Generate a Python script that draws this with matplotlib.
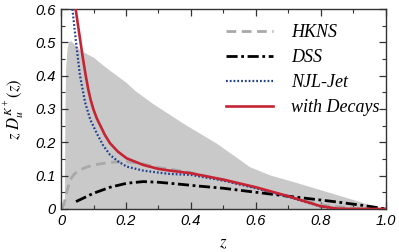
import numpy as np
import matplotlib
matplotlib.use("Agg")
import matplotlib.pyplot as plt
from matplotlib.ticker import MultipleLocator, FuncFormatter

plt.rcParams['mathtext.fontset'] = 'stix'

# Uncertainty band (upper edge, lower edge is 0)
band_z = [0.010, 0.012, 0.014, 0.018, 0.023, 0.030, 0.040, 0.058, 0.100, 0.135,
          0.200, 0.228, 0.280, 0.376, 0.479, 0.580, 0.643, 0.715, 0.818, 0.920,
          0.980, 1.000]
band_up = [0.0, 0.30, 0.42, 0.48, 0.502, 0.505, 0.495, 0.477, 0.455, 0.427,
           0.380, 0.355, 0.318, 0.257, 0.197, 0.127, 0.102, 0.082, 0.052, 0.022,
           0.002, 0.0]

# HKNS
hkns_z = [0.005, 0.012, 0.020, 0.028, 0.040, 0.058, 0.080, 0.100, 0.151, 0.202,
          0.253, 0.300, 0.350, 0.400, 0.500, 0.600, 0.700, 0.800, 0.900, 1.000]
hkns_v = [0.0, 0.027, 0.060, 0.087, 0.104, 0.117, 0.126, 0.132, 0.140, 0.142,
          0.135, 0.124, 0.117, 0.109, 0.086, 0.063, 0.037, 0.012, 0.002, 0.0]

# DSS
dss_z = [0.046, 0.070, 0.100, 0.151, 0.202, 0.253, 0.300, 0.335, 0.430, 0.500,
         0.633, 0.700, 0.840, 0.940, 1.000]
dss_v = [0.022, 0.033, 0.047, 0.065, 0.077, 0.082, 0.080, 0.077, 0.068, 0.062,
         0.046, 0.038, 0.022, 0.009, 0.0]

# NJL-Jet
njl_z = [0.035, 0.046, 0.058, 0.074, 0.090, 0.110, 0.130, 0.151, 0.175, 0.202,
         0.253, 0.300, 0.335, 0.400, 0.500, 0.600, 0.700, 0.800, 0.850]
njl_v = [0.600, 0.502, 0.402, 0.320, 0.268, 0.227, 0.190, 0.162, 0.143, 0.127,
         0.115, 0.109, 0.105, 0.102, 0.085, 0.062, 0.036, 0.007, 0.0]

# with Decays
dec_z = [0.045, 0.052, 0.060, 0.068, 0.076, 0.084, 0.091, 0.100, 0.110, 0.120,
         0.135, 0.151, 0.175, 0.202, 0.253, 0.300, 0.335, 0.400, 0.500, 0.600,
         0.700, 0.800, 0.850, 0.900, 1.000]
dec_v = [0.600, 0.553, 0.500, 0.448, 0.400, 0.358, 0.328, 0.298, 0.272, 0.252,
         0.222, 0.197, 0.172, 0.152, 0.132, 0.120, 0.115, 0.107, 0.088, 0.065,
         0.038, 0.008, 0.001, 0.0, 0.0]

fig = plt.figure(figsize=(3.99, 2.52), dpi=100)
ax = fig.add_axes([0.153, 0.171, 0.814, 0.793])

ax.fill_between(band_z, 0, band_up, color='#c9c9c9', lw=0, zorder=1)
ax.plot(hkns_z, hkns_v, color='#a9a9a9', lw=2.0, ls=(0, (3.5, 2)), label='HKNS', zorder=2)
ax.plot(dss_z, dss_v, color='black', lw=2.0, ls=(0, (4, 1.3, 1, 1.3)), label='DSS', zorder=3)
ax.plot(njl_z, njl_v, color='#1f3f8f', lw=1.6, ls=(0, (0.8, 0.9)), label='NJL-Jet', zorder=4)
ax.plot(dec_z, dec_v, color='#c42434', lw=1.9, label='with Decays', zorder=5)

ax.set_xlim(0, 1)
ax.set_ylim(0, 0.6)
ax.xaxis.set_major_locator(MultipleLocator(0.2))
ax.xaxis.set_minor_locator(MultipleLocator(0.1))
ax.yaxis.set_major_locator(MultipleLocator(0.1))
ax.yaxis.set_minor_locator(MultipleLocator(0.05))

def fmt(v, pos):
    if abs(v) < 1e-9:
        return '0'
    return '%.1f' % v

ax.xaxis.set_major_formatter(FuncFormatter(fmt))
ax.yaxis.set_major_formatter(FuncFormatter(fmt))
ax.tick_params(which='both', direction='in', top=True, right=True, color='#333333')
ax.tick_params(which='major', length=5, width=0.9, pad=4)
ax.tick_params(which='minor', length=3, width=0.8)
for lab in ax.get_xticklabels() + ax.get_yticklabels():
    lab.set_fontfamily('Liberation Sans')
    lab.set_fontstyle('italic')
    lab.set_fontsize(10.5)
for sp in ax.spines.values():
    sp.set_linewidth(1.0)
    sp.set_color('#333333')

fig.text(223.5 / 399, 1 - 242 / 252, r'$z$', fontsize=12, ha='center', va='center')
ax.set_ylabel(r'$z\ D_u^{K^+}(z)$', fontsize=12, labelpad=6)

leg = ax.legend(loc='upper right', bbox_to_anchor=(1.015, 0.98), frameon=False,
                handlelength=2.6, handletextpad=1.0, labelspacing=0.45,
                borderaxespad=0.2,
                prop={'family': 'Liberation Serif', 'style': 'italic', 'size': 13})

fig.savefig('out.png', dpi=100)
